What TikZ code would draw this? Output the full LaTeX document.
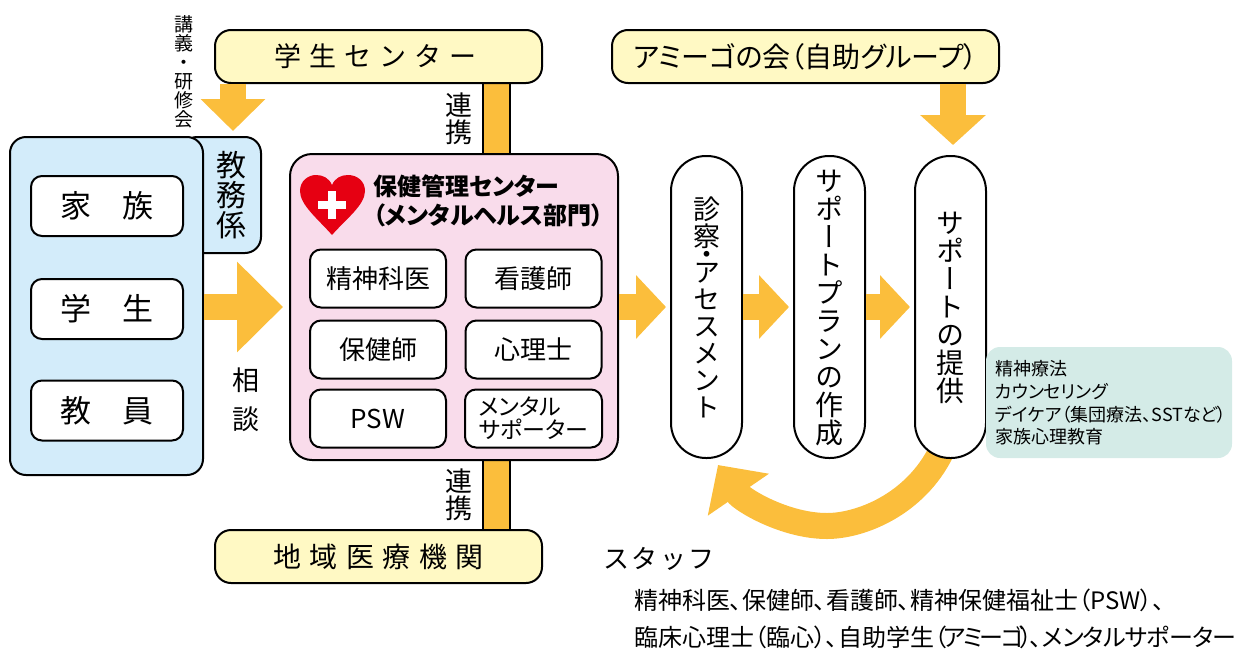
\documentclass[tikz,border=0pt]{standalone}
\usepackage{fontspec}
\setmainfont[RawFeature=+palt]{Noto Sans CJK JP}
\newfontfamily\cjkvert[RawFeature=+vert]{Noto Sans CJK JP}
\newfontfamily\cjkwide{Noto Sans CJK JP}
\usepackage{xcolor}
\usetikzlibrary{positioning,arrows.meta,backgrounds}

\definecolor{blockorange}{HTML}{FBBE3C}
\definecolor{yellowfill}{HTML}{FFF9C4}
\definecolor{bluefill}{HTML}{D3ECFA}
\definecolor{pinkfill}{HTML}{F9DCEB}
\definecolor{tealfill}{HTML}{D4EBE7}
\definecolor{heartred}{HTML}{E60012}

\newcommand{\fsize}[1]{\fontsize{#1}{#1}\selectfont}

\tikzset{
    panel/.style={draw, line width=2pt, rounded corners=16pt, inner sep=0pt},
    yellowbox/.style={panel, fill=yellowfill, minimum height=53pt},
    whitebox/.style={panel, fill=white, rounded corners=11pt, minimum height=58pt},
    pill/.style={panel, fill=white, rounded corners=35pt, minimum width=71pt, minimum height=302pt},
    vlabel/.style={align=center, inner sep=0pt},
    blockarrow/.style n args={2}{draw=blockorange, line width=26pt, -{Triangle[length=#1, width=#2]}},
    barlink/.style={draw=black, line width=2pt, double=blockorange, double distance=25pt}
}

\begin{document}
\begin{tikzpicture}[x=1pt,y=-1pt]
    \useasboundingbox (0,0) rectangle (1236,648);

    % Top and bottom boxes
    \node[yellowbox, minimum width=327pt] (student) at (378.5,56.5)
        {\hspace*{-6pt}\cjkwide\addfontfeature{LetterSpace=30}\fsize{27}学生センター};
    \node[yellowbox, minimum width=327pt] (clinic) at (378.5,556.5)
        {\raisebox{-1.5pt}{\cjkwide\addfontfeature{LetterSpace=30}\fsize{28}地域医療機関}};
    \node[yellowbox, minimum width=387pt] (amigo) at (805.5,56.5)
        {\fsize{28}アミーゴの会（自助グループ）};

    % Left side
    \node[panel, fill=bluefill, minimum width=80pt, minimum height=116pt] (office) at (221,195) {};
    \node[panel, fill=bluefill, minimum width=193pt, minimum height=338pt] (people) at (106.5,306) {};
    \node[vlabel, font=\cjkvert\fsize{30}] (officetext) at (231,195) {教\\務\\係};
    \foreach \name/\y/\label in {family/206/家　族, pupil/309/学　生, teacher/410.5/教　員}
        \node[whitebox, minimum width=152pt, minimum height=60pt] (\name) at (107,\y)
            {\cjkwide\fsize{31}\label};

    % Health center
    \node[panel, fill=pinkfill, rounded corners=22pt, minimum width=328pt, minimum height=306pt] (center) at (454,307) {};
    \node[anchor=west, align=left, inner sep=0pt, font=\bfseries\fontsize{24}{29}\selectfont] (centertext) at (373,201)
        {保健管理センター\\（メンタルヘルス部門）};
    \foreach \name/\x/\y/\label in {doctor/378/278.5/精神科医, nurse/533.5/278.5/看護師,
                                    phn/378/349.5/保健師, psych/533.5/349.5/心理士,
                                    psw/378/418.5/PSW}
        \node[whitebox, minimum width=136pt] (\name) at (\x,\y) {\fsize{26}\label};
    \node[whitebox, minimum width=137pt, align=left, font=\fsize{23}] (mentalsup) at (533.5,418.5)
        {メンタル\\サポーター};

    % Heart
    \fill[heartred] (332,235) .. controls (318,219) and (300,205) .. (300,191)
        .. controls (300,181) and (308,175) .. (316,175)
        .. controls (323,175) and (329,178) .. (332,185)
        .. controls (335,178) and (341,175) .. (348,175)
        .. controls (357,175) and (365,181) .. (365,191)
        .. controls (365,205) and (346,219) .. (332,235) -- cycle;
    \fill[white] (318,201) rectangle (346,209);
    \fill[white] (328,191) rectangle (336,219);

    % Process pills
    \node[pill] (assess) at (706.5,307) {};
    \node[pill] (plan) at (829.5,307) {};
    \node[pill] (provide) at (950.5,307) {};
    \node[vlabel, font=\cjkvert\fsize{27}] (assesstext) at (706.5,307.5) {診\\察\\[-9pt]・\\[-9pt]ア\\セ\\ス\\メ\\ン\\ト};
    \node[vlabel, font=\cjkvert\fsize{28}] (plantext) at (829.5,307.5) {サ\\ポ\\ー\\ト\\プ\\ラ\\ン\\の\\作\\成};
    \node[vlabel, font=\cjkvert\fsize{28}] (providetext) at (950.5,307.5) {サ\\ポ\\ー\\ト\\の\\提\\供};

    % Support list
    \node[fill=tealfill, rounded corners=14pt, minimum width=246pt, minimum height=111pt, inner sep=0pt] (menu) at (1109,402.5) {};
    \node[anchor=west, align=left, font=\fontsize{18}{22.7}\selectfont, inner sep=0pt] (menutext) at (995,403)
        {精神療法\\カウンセリング\\デイケア（集団療法、SSTなど）\\家族心理教育};

    % Side labels
    \node[vlabel, font=\cjkvert\fsize{19}] (lecture) at (184,72) {講\\義\\・\\研\\修\\会};
    \node[vlabel, font=\cjkvert\fsize{27}] (link1) at (459,119) {連\\携};
    \node[vlabel, font=\cjkvert\fsize{27}] (link2) at (459,495) {連\\携};
    \node[vlabel, font=\cjkvert\fsize{27}] (consult) at (246,400) {相\\[12pt]談};

    % Staff
    \node[anchor=west, inner sep=0pt, font=\cjkwide\addfontfeature{LetterSpace=10}\fsize{26}] (stafftitle) at (603,559) {スタッフ};
    \node[anchor=west, font=\fsize{24}, inner sep=0pt] (staff1) at (634,600)
        {精神科医、保健師、看護師、精神保健福祉士（PSW）、};
    \node[anchor=west, font=\fsize{24}, inner sep=0pt] (staff2) at (634,637)
        {臨床心理士（臨心）、自助学生{\addfontfeature{LetterSpace=-11}（アミーゴ）、}{\addfontfeature{LetterSpace=-3}メンタルサポーター}};

    % Connectors
    \coordinate (barx) at (496.5,0);
    \coordinate (lecx) at (233,0);
    \coordinate (amigox) at (953,0);
    \coordinate (flowy) at (0,307);
    \begin{scope}[on background layer]
        \draw[barlink] (student.south -| barx) -- (center.north -| barx);
        \draw[barlink] (center.south -| barx) -- (clinic.north -| barx);
    \end{scope}
    \draw[blockarrow={32pt}{63pt}, shorten >=5pt] (student.south -| lecx) -- (office.north -| lecx);
    \draw[blockarrow={30pt}{64pt}, shorten >=10pt] (amigo.south -| amigox) -- (provide.north -| amigox);
    \draw[blockarrow={46pt}{88pt}, shorten >=6pt] (people.east |- flowy) -- (center.west |- flowy);
    \draw[blockarrow={30pt}{62pt}, shorten >=4pt] (center.east |- flowy) -- (assess.west |- flowy);
    \draw[blockarrow={30pt}{62pt}, shorten >=4pt] (assess.east |- flowy) -- (plan.west |- flowy);
    \draw[blockarrow={30pt}{62pt}, shorten >=4pt] (plan.east |- flowy) -- (provide.west |- flowy);

    % Return arrow
    \coordinate (returntip) at (718,465);
    \begin{scope}[on background layer]
        \draw[blockarrow={36pt}{72pt}] (provide.south) ++(-9,-8) .. controls (915,505) and (860,526) .. (827,526)
            .. controls (785,526) and (742,500) .. (returntip);
    \end{scope}
\end{tikzpicture}
\end{document}
